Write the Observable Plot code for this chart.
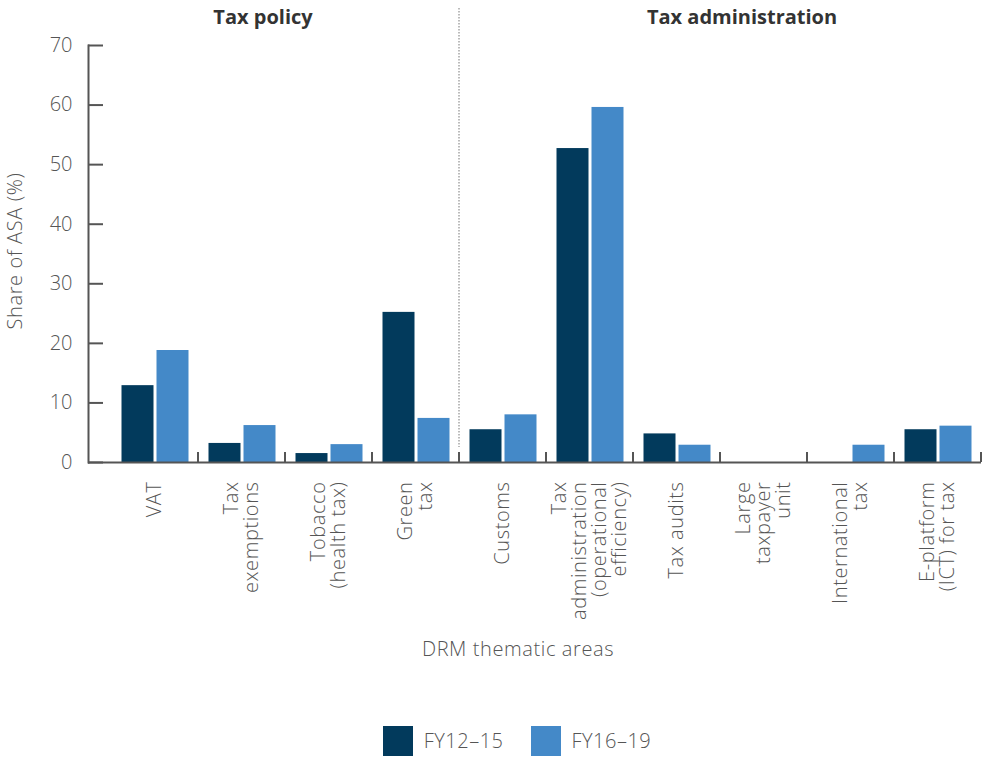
<!DOCTYPE html>
<html><head><meta charset="utf-8">
<script src="https://cdn.jsdelivr.net/npm/d3@7"></script>
<script src="https://cdn.jsdelivr.net/npm/@observablehq/plot@0.6"></script>
<style>
body{margin:0;background:#fff;font-family:"Open Sans",Lato,sans-serif;}
#chart{width:989px;}
svg text{font-weight:300;}
svg text.lbl{letter-spacing:0.6px;}
.lg-swatch > svg{margin-right:11px !important;}
.lg-swatch{margin-right:27px !important;letter-spacing:0.5px;}
</style></head><body><div id="chart"></div>
<script>
const categories = ["VAT","Tax exemptions","Tobacco (health tax)","Green tax","Customs","Tax administration (operational efficiency)","Tax audits","Large taxpayer unit","International tax","E-platform (ICT) for tax"];
const tickLabels = ["VAT","Tax\nexemptions","Tobacco\n(health tax)","Green\ntax","Customs","Tax\nadministration\n(operational\nefficiency)","Tax audits","Large\ntaxpayer\nunit","International\ntax","E-platform\n(ICT) for tax"];
const series = ["FY12–15","FY16–19"];
const fy1215 = [12.9,3.2,1.5,25.2,5.5,52.7,4.8,0,0,5.5];
const fy1619 = [18.8,6.2,3.0,7.4,8.0,59.6,2.9,0,2.9,6.1];
const yTicks = [0,10,20,30,40,50,60,70];
const groupNames = ["Tax policy","Tax administration"];
const groupSizes = [4,6];
const colors = ["#023a5c","#4489c8"];

const rowsA = categories.map((c,i)=>({category:c, series:series[0], value:fy1215[i]}));
const rowsB = categories.map((c,i)=>({category:c, series:series[1], value:fy1619[i]}));
const font = "'Open Sans', Lato, sans-serif";

const plot = Plot.plot({
  width:989, height:715, marginLeft:88, marginRight:8, marginTop:45, marginBottom:253,
  style:{fontFamily:font, color:"#555", background:"#fff"},
  x:{domain:categories, paddingInner:0, paddingOuter:0.125, align:1},
  y:{domain:[0,70]},
  color:{domain:series, range:colors},
  marks:[
    Plot.barY(rowsA, {x:"category", y:"value", fill:"series", insetLeft:10.5, insetRight:44.5}),
    Plot.barY(rowsB, {x:"category", y:"value", fill:"series", insetLeft:45.5, insetRight:9.5}),
    Plot.ruleY([0], {stroke:"#555", strokeWidth:2}),
    Plot.frame({anchor:"left", stroke:"#555", strokeWidth:2}),
    Plot.axisY(yTicks, {tickSize:15, dx:15, tickPadding:16, fontSize:20, stroke:"#555", strokeWidth:2, label:null}),
    Plot.axisX({tickRotate:-90, tickSize:0, tickPadding:19, fontSize:20, lineHeight:1.0, tickFormat:d=>tickLabels[categories.indexOf(d)], label:null, className:"lbl"}),
    Plot.text(["Share of ASA (%)"], {frameAnchor:"left", textAnchor:"middle", rotate:-90, dx:-73, dy:-3, fontSize:20, fill:"#555", className:"lbl"}),
    Plot.text(["DRM thematic areas"], {frameAnchor:"bottom", dy:193, dx:-17, fontSize:20, fill:"#555", className:"lbl"})
  ]
});

const xs = plot.scale("x");
const ys = plot.scale("y");
const svg = d3.select(plot);
svg.selectAll("g.lbl text").classed("lbl", true);
const y0 = ys.apply(0);
const g = svg.append("g");
categories.forEach(c => {
  const bx = xs.apply(c) + xs.step;
  g.append("line").attr("x1",bx).attr("x2",bx).attr("y1",y0).attr("y2",y0-10).attr("stroke","#555").attr("stroke-width",2);
});
let idx = 0;
const starts = [];
groupSizes.forEach(n => { starts.push(idx); idx += n; });
const divX = xs.apply(categories[groupSizes[0]]);
svg.append("line").attr("x1",divX).attr("x2",divX).attr("y1",8).attr("y2",y0-15)
  .attr("stroke","#bbb").attr("stroke-width",2).attr("stroke-dasharray","1.5,1.5");
groupNames.forEach((name,i) => {
  const a = xs.apply(categories[starts[i]]);
  const b = xs.apply(categories[starts[i]+groupSizes[i]-1]) + xs.step;
  const shift = i === 0 ? -22 : 22;
  svg.append("text").attr("x",(a+b)/2 + shift).attr("y",24).attr("text-anchor","middle")
    .style("font-weight","bold").attr("font-size",20).attr("fill","#333").text(name);
});

document.getElementById("chart").append(plot);
const legend = plot.legend("color", {swatchSize:30, className:"lg", style:{fontFamily:font, fontWeight:300, fontSize:"20px", color:"#555", justifyContent:"center", paddingLeft:"72px", marginTop:"9px"}});
document.getElementById("chart").append(legend);
</script></body></html>
